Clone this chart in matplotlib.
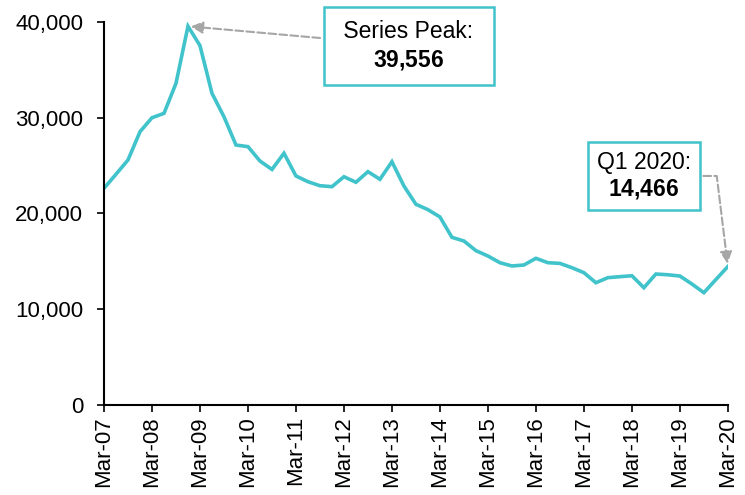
import numpy as np
import pandas as pd
import matplotlib
matplotlib.use('Agg')
import matplotlib.pyplot as plt
from matplotlib.ticker import FuncFormatter

plt.rcParams['font.family'] = ['Liberation Sans', 'DejaVu Sans']
plt.rcParams['mathtext.fontset'] = 'custom'
plt.rcParams['mathtext.rm'] = 'Liberation Sans'
plt.rcParams['mathtext.bf'] = 'Liberation Sans:bold'

# Quarterly series, Mar-07 .. Mar-20
quarters = pd.period_range('2007Q1', '2020Q1', freq='Q')
values = [22630, 24100, 25590, 28540, 30000, 30460, 33590, 39556, 37530, 32550,
          30100, 27150, 26980, 25480, 24600, 26290, 23920, 23320, 22900, 22800,
          23840, 23260, 24370, 23570, 25410, 22870, 20960, 20400, 19640, 17510,
          17130, 16120, 15560, 14860, 14520, 14620, 15320, 14860, 14790, 14340,
          13820, 12770, 13300, 13400, 13500, 12250, 13680, 13600, 13470, 12640,
          11730, 13100, 14466]
tick_labels = ['Mar-%02d' % (y % 100) for y in range(2007, 2021)]

teal = '#40c3cb'
grey = '#a6a6a6'

fig = plt.figure(figsize=(7.45, 4.95), dpi=100)
ax = fig.add_axes([0.1396, 0.1818, 0.8374, 0.7738])

x = np.arange(len(values))
ax.plot(x, values, color=teal, linewidth=2.6, solid_joinstyle='miter')

ax.set_xlim(0, len(values) - 1)
ax.set_ylim(0, 40000)
ax.set_yticks([0, 10000, 20000, 30000, 40000])
ax.yaxis.set_major_formatter(FuncFormatter(lambda v, p: '{:,.0f}'.format(v)))
ax.set_xticks(x[::4])
ax.set_xticklabels(tick_labels, rotation=90)

for s in ['top', 'right']:
    ax.spines[s].set_visible(False)
for s in ['left', 'bottom']:
    ax.spines[s].set_linewidth(1.5)
ax.tick_params(axis='both', labelsize=16, width=1.2, length=5, direction='out')
ax.tick_params(axis='y', pad=10)
ax.tick_params(axis='x', pad=3)


def bold_num(v):
    return '$\\bf{%s}$' % '{:,}'.format(v).replace(',', '{,}')


arrow = dict(arrowstyle='-|>', color=grey, linestyle='--', linewidth=1.5,
             mutation_scale=18, shrinkB=2)

# peak call-out (extra spaces widen the box a little)
peak_i = int(np.argmax(values))
ax.annotate(' Series Peak: \n' + bold_num(values[peak_i]),
            xy=(peak_i, values[peak_i]), xytext=(25.4, 37500),
            ha='center', va='center', fontsize=16.5, linespacing=1.25,
            bbox=dict(boxstyle='square,pad=0.6', facecolor='white',
                      edgecolor=teal, linewidth=1.8),
            arrowprops=arrow, annotation_clip=False)

# latest quarter call-out
last = len(values) - 1
arrow2 = dict(arrow, connectionstyle='angle,angleA=0,angleB=97,rad=0')
ax.annotate('Q1 2020:\n' + bold_num(values[last]),
            xy=(last, values[last]), xytext=(45, 23920),
            ha='center', va='center', fontsize=16.5, linespacing=1.2,
            bbox=dict(boxstyle='square,pad=0.38', facecolor='white',
                      edgecolor=teal, linewidth=1.8),
            arrowprops=arrow2, annotation_clip=False)

plt.savefig('out.png', dpi=100)
